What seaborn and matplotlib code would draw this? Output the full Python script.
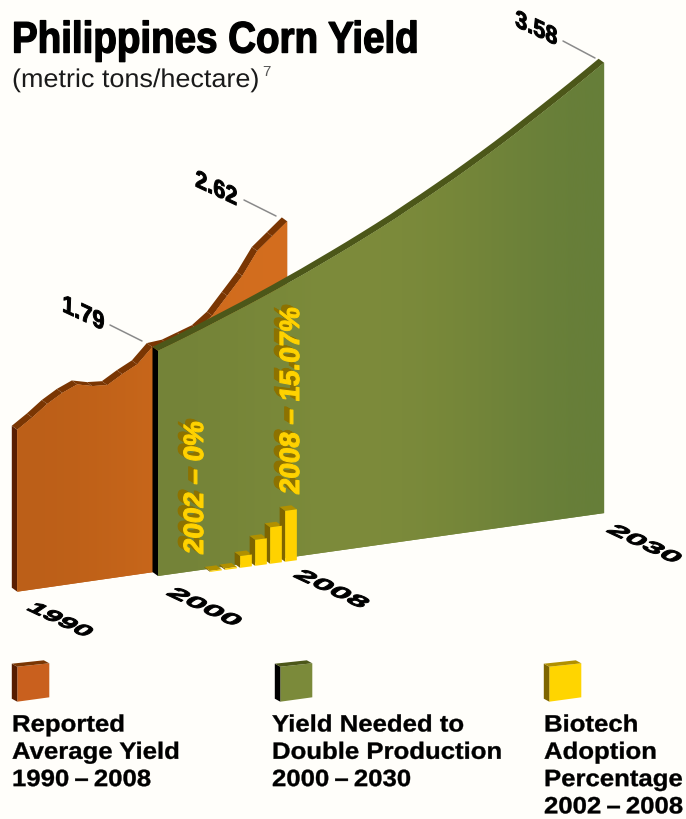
import numpy as np
import matplotlib
matplotlib.use("Agg")
import matplotlib.pyplot as plt
from matplotlib.colors import to_rgb
from matplotlib.patches import Polygon
from matplotlib.patheffects import AbstractPathEffect
from matplotlib.transforms import Affine2D
import seaborn as sns

# Reported average yield, metric tons/hectare
reported_years = list(range(1990, 2009))
reported_yield = [1.28, 1.36, 1.45, 1.52, 1.57, 1.54, 1.53, 1.60, 1.66, 1.78,
                  1.79, 1.83, 1.87, 1.96, 2.10, 2.24, 2.42, 2.52, 2.62]

# Yield needed to double production
needed_years = list(range(2000, 2031))
needed_yield = [1.790, 1.830, 1.872, 1.915, 1.960, 2.005, 2.050, 2.097, 2.145, 2.195, 2.245,
                2.298, 2.351, 2.405, 2.461, 2.518, 2.577, 2.640, 2.702, 2.766, 2.831,
                2.899, 2.968, 3.039, 3.112, 3.188, 3.264, 3.341, 3.419, 3.499, 3.580]

# Biotech adoption, percent of corn area
biotech_years = [2002, 2003, 2004, 2005, 2006, 2007, 2008]
biotech_share = [0.0, 0.3, 0.4, 3.5, 7.7, 10.8, 15.07]

axis_years = [1990, 2000, 2008, 2030]
callout_values = [1.79, 2.62, 3.58]

legend_titles = [["Reported", "Average Yield", "1990\u2009–\u20092008"],
                 ["Yield Needed to", "Double Production", "2000\u2009–\u20092030"],
                 ["Biotech", "Adoption", "Percentage", "2002\u2009–\u20092008"]]

PAPER = "#FFFEFA"
DEPTH = np.array([-5.5, -4.0])
FONT = "Liberation Sans"


class Warp(AbstractPathEffect):
    """Draw text through a linear map about its anchor, optionally extruded."""

    def __init__(self, a=1.0, b=0.0, c=0.0, d=1.0, stroke=0.0, extrude=None, extrude_color=None):
        self.m = np.array([[a, c, 0.0], [b, d, 0.0], [0.0, 0.0, 1.0]])
        self.stroke = stroke
        self.extrude = extrude
        self.extrude_color = to_rgb(extrude_color) if extrude_color else None

    def draw_path(self, renderer, gc, tpath, affine, rgbFace=None):
        tx, ty = affine.get_matrix()[:2, 2]
        warped = affine + Affine2D().translate(-tx, -ty) + Affine2D(self.m) + Affine2D().translate(tx, ty)
        if self.extrude is not None:
            gc1 = renderer.new_gc()
            gc1.copy_properties(gc)
            gc1.set_linewidth(0)
            for t in np.linspace(1, 0.08, 10):
                shift = Affine2D().translate(self.extrude[0] * t, self.extrude[1] * t)
                renderer.draw_path(gc1, tpath, warped + shift, self.extrude_color)
            gc1.restore()
        gc0 = renderer.new_gc()
        gc0.copy_properties(gc)
        gc0.set_linewidth(self.stroke)
        if self.stroke:
            gc0.set_foreground(rgbFace)
        renderer.draw_path(gc0, tpath, warped, rgbFace)
        gc0.restore()


def wall(year0, x0, y0, px_per_year, px_per_unit, slope):
    """Map (year, value) onto a sheared wall in layout pixels."""
    return Affine2D(np.array([[px_per_year, 0.0, x0 - px_per_year * year0],
                              [-slope * px_per_year, -px_per_unit, y0 + slope * px_per_year * year0],
                              [0.0, 0.0, 1.0]]))


def faceted_band(ax, tf, years, values, color, z):
    """Top surface of a wall, one facet per data interval."""
    pts = tf.transform(np.column_stack([years, values]))
    for p, q in zip(pts[:-1], pts[1:]):
        ax.add_patch(Polygon([p, q, q + DEPTH, p + DEPTH], fc=color, ec="none", zorder=z))


def smooth_band(ax, tf, years, values, color, z):
    """Top surface of a wall as one continuous ribbon."""
    pts = tf.transform(np.column_stack([years, values]))
    ax.add_patch(Polygon(np.vstack([pts, (pts + DEPTH)[::-1]]), fc=color, ec="none", zorder=z))


def side_face(ax, tf, year, value, color, z):
    p, q = tf.transform([(year, 0), (year, value)])
    ax.add_patch(Polygon([p, q, q + DEPTH, p + DEPTH], fc=color, ec="none", zorder=z))


def gradient_face(ax, tf, years, values, stops, z):
    """Front of a wall, filled with a left-to-right colour ramp."""
    verts = [(years[0], 0), *zip(years, values), (years[-1], 0)]
    outline = Polygon(tf.transform(verts), fc=stops[0], ec="none", zorder=z)
    ax.add_patch(outline)
    x0, x1 = outline.get_xy()[:, 0].min(), outline.get_xy()[:, 0].max()
    ramp = np.array([to_rgb(c) for c in stops])[None, :, :]
    im = ax.imshow(ramp, extent=(x0, x1, 819, 0), aspect="auto", interpolation="bicubic", zorder=z + 0.1)
    im.set_clip_path(outline)


sns.set_theme(style="white")
plt.rcParams["font.family"] = [FONT, "DejaVu Sans"]

fig = plt.figure(figsize=(6.86, 8.19), dpi=100, facecolor=PAPER)
ax = fig.add_axes([0, 0, 1, 1], facecolor=PAPER)
ax.set_xlim(0, 686)
ax.set_ylim(819, 0)

reported_tf = wall(1990, 17.3, 591.7, 15.0, 126.5, 0.144)
needed_tf = wall(2000, 158.0, 576.0, 14.87, 125.8, 0.141)
biotech_tf = wall(2008, 291.0, 561.0, 15.0, 3.38, 0.135)

# Reported yield wall
side_face(ax, reported_tf, reported_years[0], reported_yield[0], "#5A1E02", 2)
faceted_band(ax, reported_tf, reported_years, reported_yield, "#7A3603", 2)
gradient_face(ax, reported_tf, reported_years, reported_yield, ["#BC5F18", "#C7661A", "#D46E1F"], 3)

# Needed yield wall
side_face(ax, needed_tf, needed_years[0], needed_yield[0], "#000000", 4)
smooth_band(ax, needed_tf, needed_years, needed_yield, "#4C5719", 4)
gradient_face(ax, needed_tf, needed_years, needed_yield,
              ["#748338", "#7B8A3A", "#7E8C3B", "#758639", "#667E39"], 5)

# Biotech bars standing in front of the wall
bar_width = 0.78
sns.barplot(x=biotech_years[1:], y=biotech_share[1:], native_scale=True, width=bar_width,
            color="#FFD200", saturation=1, linewidth=0, errorbar=None,
            transform=biotech_tf + ax.transData, zorder=8, ax=ax)
for yr, share in zip(biotech_years[1:], biotech_share[1:]):
    left, right = yr - bar_width / 2, yr + bar_width / 2
    a, b, c = biotech_tf.transform([(left, 0), (left, share), (right, share)])
    ax.add_patch(Polygon([a, b, b + DEPTH, a + DEPTH], fc="#7E6500", ec="none", zorder=7))
    ax.add_patch(Polygon([b, c, c + DEPTH, b + DEPTH], fc="#B19000", ec="none", zorder=7))

# Yellow labels printed on the wall
bar_label_style = dict(color="#FFD200", fontsize=20, fontweight="bold", rotation=90,
                       ha="left", va="baseline", zorder=9, rotation_mode="anchor")
bar_effect = [Warp(b=-0.12, stroke=0.8, extrude=(-6.0, 3.5), extrude_color="#8D7200")]
ax.text(203, 555, f"{biotech_years[0]} – {biotech_share[0]:.0f}%", path_effects=bar_effect, **bar_label_style)
ax.text(299, 495, f"{biotech_years[-1]} – {biotech_share[-1]:.2f}%", path_effects=bar_effect, **bar_label_style)

# Year labels lying on the floor
for yr, x, y, stretch in zip(axis_years, [25, 165, 292, 605], [609, 594, 576, 531], [1.15, 1.32, 1.32, 1.32]):
    ax.text(x, y, str(yr), fontsize=17, fontweight="bold", color="black", ha="left", va="baseline",
            path_effects=[Warp(a=stretch, b=-0.47 * stretch, c=0.7, d=0.47, stroke=0.7)], zorder=9)

# Callouts
lead_ends = [((110, 325), (142, 341)), ((244, 200), (276, 216)), ((563, 41), (595, 58))]
label_pos = [(62, 311), (195, 186), (515, 26)]
skewed = [Warp(a=0.9, b=-0.42, c=0.04, d=1.02, stroke=0.7)]
for val, pos, (p, q) in zip(callout_values, label_pos, lead_ends):
    ax.plot([p[0], q[0]], [p[1], q[1]], color="#8A8A8A", lw=1.1, zorder=9)
    ax.text(pos[0], pos[1], f"{val:.2f}", fontsize=17.3, fontweight="bold", color="black",
            ha="left", va="baseline", path_effects=skewed, zorder=9)

# Legend: extruded swatch above each stack of text lines
swatches = [(17.3, "#C9601E", "#561C00", "#7A3603"),
            (280.3, "#7B8A3A", "#000000", "#4C5719"),
            (549.3, "#FFD500", "#7E6500", "#B19000")]
swatch_depth = np.array([-5.5, -3.0])
legend_text = [Warp(a=1.09, stroke=0.25)]
for (x, front, side, top), col_x, lines in zip(swatches, [12, 272, 544], legend_titles):
    tl = np.array([x, 666.7])
    tr = np.array([x + 32, 663.3])
    br = np.array([x + 32, 697.3])
    bl = np.array([x, 701.7])
    ax.add_patch(Polygon([tl, tr, br, bl], fc=front, ec="none", zorder=3))
    ax.add_patch(Polygon([tl, bl, bl + swatch_depth, tl + swatch_depth], fc=side, ec="none", zorder=3))
    ax.add_patch(Polygon([tl, tr, tr + swatch_depth, tl + swatch_depth], fc=top, ec="none", zorder=3))
    for i, line in enumerate(lines):
        ax.text(col_x, 731.5 + 27.3 * i, line, fontsize=17.0, fontweight="bold", color="black",
                ha="left", va="baseline", path_effects=legend_text, zorder=9)

# Title block
ax.text(12, 52.5, "Philippines Corn Yield", fontsize=31.7, fontweight="bold", color="black",
        ha="left", va="baseline", path_effects=[Warp(a=0.875, stroke=1.0)], zorder=9)
ax.text(12, 87, "(metric tons/hectare)", fontsize=18.5, color="#1A1A1A", ha="left", va="baseline",
        path_effects=[Warp(a=1.05)], zorder=9)
ax.text(262, 76, "7", fontsize=11, color="#555555", ha="left", va="baseline", zorder=9)

ax.set_xlim(0, 686)
ax.set_ylim(819, 0)
ax.set_axis_off()
fig.savefig("out.png", dpi=100, facecolor=PAPER)
